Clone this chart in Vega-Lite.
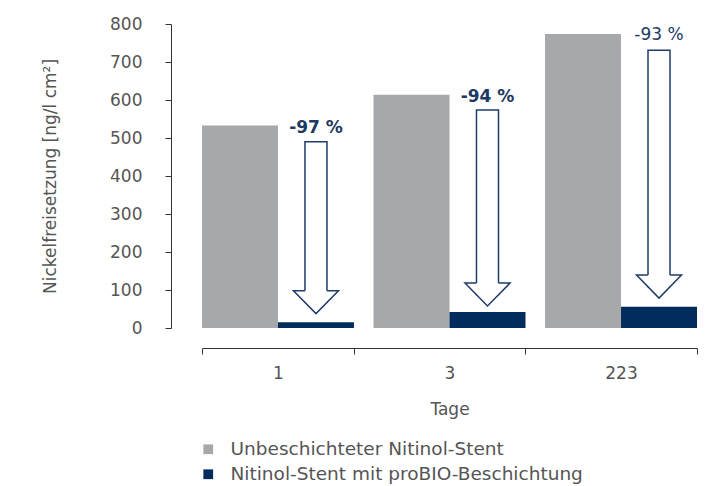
{
  "$schema": "https://vega.github.io/schema/vega-lite/v6.json",
  "width": 495,
  "height": 304,
  "autosize": "none",
  "padding": {"left": 202, "top": 24, "right": 15, "bottom": 158},
  "config": {
    "font": "DejaVu Sans",
    "view": {"stroke": null},
    "axis": {"grid": false, "domainColor": "#333333", "tickColor": "#333333", "labelColor": "#555555", "titleColor": "#555555", "labelFontSize": 17, "titleFontSize": 17, "titleFontWeight": "normal", "labelFont": "DejaVu Sans", "titleFont": "DejaVu Sans", "labelOverlap": false},
    "axisX": {"labelAngle": 0, "offset": 20, "tickBand": "extent", "tickSize": 6, "labelPadding": 11, "titlePadding": 20},
    "axisY": {"offset": 31, "tickSize": 6, "labelPadding": 23, "titlePadding": 50}
  },
  "datasets": {
    "bars": [
      {"day": "1", "series": "Unbeschichteter Nitinol-Stent", "value": 533},
      {"day": "1", "series": "Nitinol-Stent mit proBIO-Beschichtung", "value": 15},
      {"day": "3", "series": "Unbeschichteter Nitinol-Stent", "value": 614},
      {"day": "3", "series": "Nitinol-Stent mit proBIO-Beschichtung", "value": 42},
      {"day": "223", "series": "Unbeschichteter Nitinol-Stent", "value": 774},
      {"day": "223", "series": "Nitinol-Stent mit proBIO-Beschichtung", "value": 56}
    ],
    "arrows": [
      {"day": "1", "series": "Nitinol-Stent mit proBIO-Beschichtung", "label": "-97 %", "top": 490, "headMid": 68, "labelY": 527},
      {"day": "3", "series": "Nitinol-Stent mit proBIO-Beschichtung", "label": "-94 %", "top": 574, "headMid": 88, "labelY": 608},
      {"day": "223", "series": "Nitinol-Stent mit proBIO-Beschichtung", "label": "-93 %", "top": 731, "headMid": 109, "labelY": 771}
    ]
  },
  "layer": [
    {
      "data": {"name": "bars"},
      "mark": {"type": "bar"},
      "encoding": {
        "x": {"field": "day", "type": "nominal", "sort": ["1", "3", "223"], "title": "Tage",
              "scale": {"paddingInner": 0.114, "paddingOuter": 0}},
        "xOffset": {"field": "series", "type": "nominal", "scale": {"domain": ["Unbeschichteter Nitinol-Stent", "Nitinol-Stent mit proBIO-Beschichtung"], "paddingInner": 0, "paddingOuter": 0}},
        "y": {"field": "value", "type": "quantitative", "title": "Nickelfreisetzung [ng/l cm²]", "scale": {"domain": [0, 800], "nice": false},
              "axis": {"values": [0, 100, 200, 300, 400, 500, 600, 700, 800]}},
        "color": {"field": "series", "type": "nominal",
                  "scale": {"domain": ["Unbeschichteter Nitinol-Stent", "Nitinol-Stent mit proBIO-Beschichtung"], "range": ["#a7a8ab", "#012c5c"]},
                  "legend": {"title": null, "orient": "none", "legendX": -3, "legendY": 416, "direction": "vertical", "symbolType": "square", "symbolSize": 95, "symbolStrokeWidth": 0, "labelFontSize": 18.5, "labelColor": "#555555", "labelFont": "DejaVu Sans", "labelOffset": 13, "rowPadding": 6, "padding": 0, "labelLimit": 450}}
      }
    },
    {
      "data": {"name": "arrows"},
      "mark": {"type": "bar", "width": 22, "fill": "white", "stroke": "#1f3d6b", "strokeWidth": 1.5},
      "encoding": {
        "x": {"field": "day", "type": "nominal", "sort": ["1", "3", "223"], "title": "Tage"},
        "xOffset": {"field": "series", "type": "nominal"},
        "y": {"field": "top", "type": "quantitative", "title": "Nickelfreisetzung [ng/l cm²]", "axis": {"values": [0, 100, 200, 300, 400, 500, 600, 700, 800]}},
        "y2": {"field": "headMid"}
      }
    },
    {
      "data": {"name": "arrows"},
      "mark": {"type": "point", "shape": "M -0.49 -0.51 L -1 -0.51 L 0 0.51 L 1 -0.51 L 0.49 -0.51", "size": 2025, "fill": "white", "stroke": "#1f3d6b", "strokeWidth": 1.5, "opacity": 1, "fillOpacity": 1},
      "encoding": {
        "x": {"field": "day", "type": "nominal", "sort": ["1", "3", "223"], "title": "Tage"},
        "xOffset": {"field": "series", "type": "nominal"},
        "y": {"field": "headMid", "type": "quantitative", "title": "Nickelfreisetzung [ng/l cm²]", "axis": {"values": [0, 100, 200, 300, 400, 500, 600, 700, 800]}}
      }
    },
    {
      "data": {"name": "arrows"},
      "transform": [{"filter": "datum.day != '223'"}],
      "mark": {"type": "text", "fontSize": 17, "fontWeight": "bold", "color": "#1d3a64", "baseline": "middle", "font": "DejaVu Sans"},
      "encoding": {
        "x": {"field": "day", "type": "nominal", "sort": ["1", "3", "223"], "title": "Tage"},
        "xOffset": {"field": "series", "type": "nominal"},
        "y": {"field": "labelY", "type": "quantitative", "title": "Nickelfreisetzung [ng/l cm²]", "axis": {"values": [0, 100, 200, 300, 400, 500, 600, 700, 800]}},
        "text": {"field": "label"}
      }
    },
    {
      "data": {"name": "arrows"},
      "transform": [{"filter": "datum.day == '223'"}],
      "mark": {"type": "text", "fontSize": 17, "fontWeight": "normal", "color": "#1d3a64", "baseline": "middle", "font": "DejaVu Sans"},
      "encoding": {
        "x": {"field": "day", "type": "nominal", "sort": ["1", "3", "223"], "title": "Tage"},
        "xOffset": {"field": "series", "type": "nominal"},
        "y": {"field": "labelY", "type": "quantitative", "title": "Nickelfreisetzung [ng/l cm²]", "axis": {"values": [0, 100, 200, 300, 400, 500, 600, 700, 800]}},
        "text": {"field": "label"}
      }
    }
  ]
}
